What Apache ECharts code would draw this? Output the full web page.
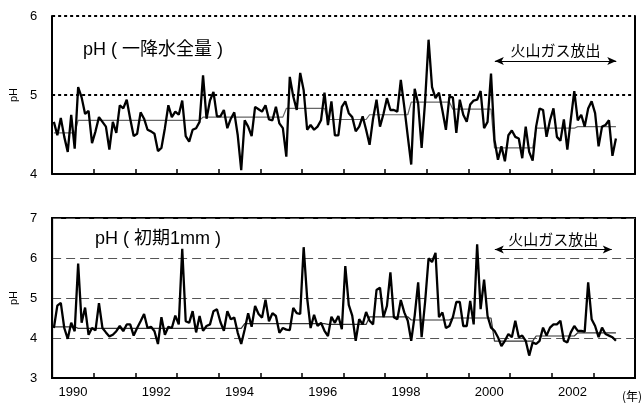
<!DOCTYPE html>
<html>
<head>
<meta charset="utf-8">
<script src="https://cdn.jsdelivr.net/npm/echarts@6/dist/echarts.min.js"></script>
<style>
html,body{margin:0;padding:0;background:#fff;}
#chart{width:644px;height:403px;}
</style>
</head>
<body>
<div id="chart"></div>
<script>
// ---- DATA ----
// monthly pH, whole precipitation (top panel)
const topPH = [
4.66,4.49,4.71,4.47,4.28,4.75,4.32,5.10,4.97,4.76,4.80,4.39,4.54,4.72,4.66,4.60,4.31,4.66,4.52,4.87,
4.83,4.94,4.70,4.48,4.51,4.78,4.70,4.56,4.54,4.51,4.29,4.33,4.58,4.87,4.72,4.79,4.75,4.93,4.48,4.41,
4.56,4.58,4.66,5.25,4.70,4.93,5.04,4.73,4.73,4.81,4.58,4.70,4.78,4.49,4.05,4.68,4.60,4.48,4.85,4.82,
4.79,4.87,4.69,4.68,4.85,4.64,4.58,4.22,5.23,4.98,4.81,5.28,5.06,4.56,4.62,4.56,4.60,4.68,5.03,4.62,
4.92,4.49,4.49,4.85,4.92,4.77,4.72,4.54,4.60,4.73,4.56,4.37,4.70,4.94,4.60,4.76,4.96,4.81,4.81,4.79,
5.19,4.85,4.48,4.12,5.08,4.89,4.33,4.92,5.70,5.10,4.96,5.03,4.80,4.56,4.98,4.97,4.52,4.94,4.75,4.66,
4.88,4.93,4.94,5.05,4.58,4.66,5.27,4.43,4.18,4.35,4.16,4.49,4.55,4.47,4.45,4.20,4.60,4.28,4.17,4.60,
4.83,4.81,4.47,4.68,4.83,4.47,4.42,4.69,4.31,4.69,5.05,4.68,4.75,4.60,4.83,4.92,4.77,4.35,4.60,4.62,
4.68,4.23,4.45
];
// monthly pH, first 1 mm (bottom panel)
const bottomPH = [
4.25,4.81,4.88,4.25,3.98,4.38,4.17,5.86,4.38,4.76,4.08,4.25,4.19,4.87,4.25,4.14,4.04,4.08,4.17,4.30,
4.17,4.34,4.34,4.06,4.25,4.42,4.60,4.25,4.28,4.17,3.85,4.52,4.08,4.28,4.25,4.56,4.34,6.23,4.42,4.38,
4.67,4.14,4.55,4.18,4.30,4.34,4.67,4.72,4.40,4.18,4.67,4.47,4.51,4.13,3.85,4.21,4.62,4.28,4.80,4.60,
4.51,4.96,4.42,4.62,4.55,4.13,4.25,4.21,4.20,4.75,4.62,4.60,6.27,5.00,4.25,4.58,4.30,4.38,4.18,4.05,
4.53,4.38,4.55,4.22,5.80,4.83,4.56,3.93,4.47,4.34,4.65,4.43,4.34,5.20,5.26,4.52,4.80,5.64,4.52,4.47,
4.95,4.64,4.43,3.93,4.56,5.39,4.02,4.90,5.99,5.90,6.13,4.52,4.64,4.25,4.30,4.52,4.90,4.90,4.30,4.30,
4.93,4.34,6.34,4.72,5.46,4.55,4.26,4.18,4.02,3.80,3.93,4.10,4.02,4.43,4.02,4.06,3.93,3.56,3.89,3.85,
3.93,4.26,4.06,4.26,4.34,4.34,4.43,3.93,3.89,4.14,4.30,4.18,4.18,4.16,5.39,4.47,4.30,4.02,4.26,4.10,
4.06,4.02,3.93
];
// period means (thin step lines): first month index of each period
const periodStart = [0, 7, 19, 31, 43, 55, 67, 79, 91, 103, 115, 127, 139, 151];
const topMean     = [4.52, 4.68, 4.68, 4.68, 4.72, 4.72, 4.83, 4.69, 4.75, 4.91, 4.82, 4.33, 4.58, 4.60];
const bottomMean  = [4.28, 4.24, 4.24, 4.24, 4.24, 4.36, 4.36, 4.34, 4.53, 4.45, 4.50, 3.92, 4.05, 4.13];
// x axis: months counted from the left edge (Jan 1990), year labels centred on their year
const yearLabels = ['1990', '1992', '1994', '1996', '1998', '2000', '2002'];
const gasPeriod = [127.6, 162.6];           // volcanic gas emission period (months)
const gasText = '火山ガス放出';
const topTitle = 'pH ( 一降水全量 )';
const bottomTitle = 'pH ( 初期1mm )';

// ---- BUILD ----
const toPairs = arr => arr.map((v, i) => [i + 0.5, v]);
function stepSeries(means, n) {
  const out = [];
  for (let i = 0; i < n; i++) {
    let k = 0;
    for (let j = 0; j < periodStart.length; j++) if (i >= periodStart[j]) k = j;
    out.push([i + 0.5, means[k]]);
  }
  return out;
}

const FONT = '"Liberation Sans", Arial, "Noto Sans CJK JP", sans-serif';
const JFONT = '"Noto Sans CJK JP", "Liberation Sans", sans-serif';

const baseX = (grid) => ({
  type: 'value', gridIndex: grid, min: 0, max: 168, interval: 12, position: 'bottom',
  axisLine: { show: true, lineStyle: { color: '#000', width: 2 } },
  axisTick: { show: true, inside: true, length: 5, lineStyle: { color: '#000', width: 1.5 } },
  axisLabel: { show: false },
  splitLine: { show: false },
  z: 3
});

const chart = echarts.init(document.getElementById('chart'), null, { renderer: 'canvas' });
chart.setOption({
  animation: false,
  backgroundColor: '#fff',
  textStyle: { fontFamily: FONT },
  grid: [
    { left: 52, right: 9, top: 16, height: 158 },
    { left: 52, right: 9, top: 218, height: 160, show: true, borderColor: '#000', borderWidth: 2 }
  ],
  title: [
    { text: topTitle, left: 83, top: 41, padding: 0,
      textStyle: { fontSize: 18, fontWeight: 'normal', color: '#000', fontFamily: FONT } },
    { text: bottomTitle, left: 95, top: 230, padding: 0,
      textStyle: { fontSize: 18, fontWeight: 'normal', color: '#000', fontFamily: FONT } }
  ],
  xAxis: [
    baseX(0),
    baseX(1),
    {
      type: 'value', gridIndex: 1, min: 0, max: 168, interval: 6, position: 'bottom',
      axisLine: { show: false }, axisTick: { show: false }, splitLine: { show: false },
      axisLabel: {
        show: true, margin: 8, fontSize: 13, color: '#000', fontFamily: FONT,
        formatter: v => {
          const k = (v - 6) / 24;
          return (Number.isInteger(k) && k >= 0 && k < yearLabels.length) ? yearLabels[k] : '';
        }
      }
    }
  ],
  yAxis: [
    {
      type: 'value', gridIndex: 0, min: 4, max: 6, interval: 1,
      axisLine: { show: true, lineStyle: { color: '#000', width: 2 } },
      axisTick: { show: false },
      axisLabel: { fontSize: 13, color: '#000', margin: 15, fontFamily: FONT },
      splitLine: { show: true, lineStyle: { color: '#000', width: 2, type: [3, 3] } },
      name: 'pH', nameLocation: 'middle', nameGap: 30,
      nameTextStyle: { fontSize: 11, color: '#000', fontFamily: FONT },
      z: 1
    },
    {
      type: 'value', gridIndex: 0, min: 4, max: 6, interval: 1, position: 'right',
      axisLine: { show: true, onZero: false, lineStyle: { color: '#000', width: 2 } },
      axisTick: { show: false }, axisLabel: { show: false }, splitLine: { show: false }
    },
    {
      type: 'value', gridIndex: 1, min: 3, max: 7, interval: 1,
      axisLine: { show: true, lineStyle: { color: '#000', width: 2 } },
      axisTick: { show: false },
      axisLabel: { fontSize: 13, color: '#000', margin: 15, fontFamily: FONT },
      splitLine: { show: true, lineStyle: { color: '#555', width: 1, type: [9, 5] } },
      name: 'pH', nameLocation: 'middle', nameGap: 30,
      nameTextStyle: { fontSize: 11, color: '#000', fontFamily: FONT },
      z: 0
    }
  ],
  series: [
    {
      type: 'line', xAxisIndex: 0, yAxisIndex: 0, data: stepSeries(topMean, topPH.length),
      showSymbol: false, symbol: 'none', lineStyle: { color: '#666', width: 1.2 }, z: 2
    },
    {
      type: 'line', xAxisIndex: 0, yAxisIndex: 0, data: toPairs(topPH),
      showSymbol: false, symbol: 'none', lineStyle: { color: '#000', width: 2.3 }, z: 3,
      markLine: {
        silent: true, symbol: ['arrow', 'arrow'], symbolSize: [6, 9],
        lineStyle: { color: '#000', width: 1.2, type: 'solid' },
        label: { show: true, position: 'middle', formatter: gasText, fontSize: 15, color: '#000',
                 fontFamily: JFONT, distance: 3 },
        data: [[{ coord: [gasPeriod[0], 5.43] }, { coord: [gasPeriod[1], 5.43] }]]
      }
    },
    {
      type: 'line', xAxisIndex: 1, yAxisIndex: 2, data: stepSeries(bottomMean, bottomPH.length),
      showSymbol: false, symbol: 'none', lineStyle: { color: '#333', width: 1.2 }, z: 2
    },
    {
      type: 'line', xAxisIndex: 1, yAxisIndex: 2, data: toPairs(bottomPH),
      showSymbol: false, symbol: 'none', lineStyle: { color: '#000', width: 2.3 }, z: 3,
      markLine: {
        silent: true, symbol: ['arrow', 'arrow'], symbolSize: [6, 9],
        lineStyle: { color: '#000', width: 1.2, type: 'solid' },
        label: { show: true, position: 'middle', formatter: gasText, fontSize: 15, color: '#000',
                 fontFamily: JFONT, distance: 3 },
        data: [[{ coord: [gasPeriod[0], 6.21] }, { coord: [gasPeriod[1] - 1.3, 6.21] }]]
      }
    }
  ],
  graphic: [
    { type: 'text', right: 2, top: 390,
      style: { text: '(年)', fontSize: 12, fill: '#000', fontFamily: JFONT } }
  ]
});
</script>
</body>
</html>
